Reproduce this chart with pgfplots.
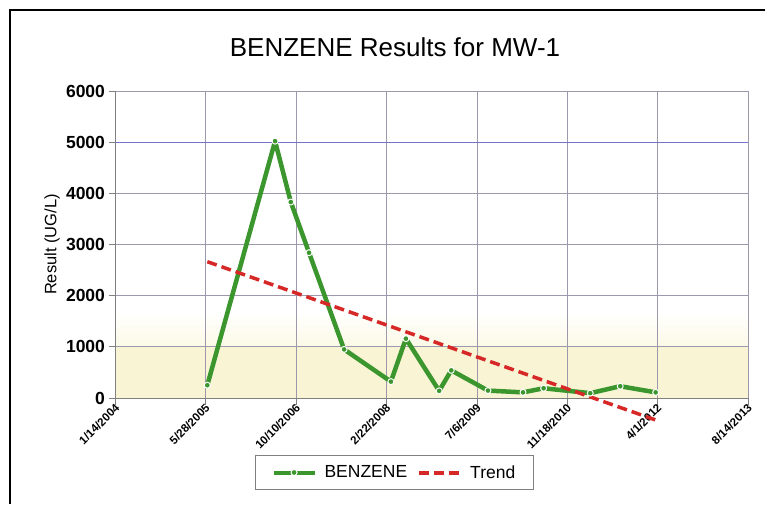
\documentclass[border=0pt]{standalone}
\usepackage{pgfplots}
\pgfplotsset{compat=1.18}
\usepackage{fontspec}
\setmainfont{Liberation Sans}
\definecolor{benz}{RGB}{58,150,45}
\definecolor{trendc}{RGB}{215,40,40}
\definecolor{gridc}{RGB}{158,152,172}
\definecolor{gridb}{RGB}{115,115,200}
\definecolor{band}{RGB}{248,244,212}
\definecolor{bandl}{RGB}{251,249,230}
\pgfdeclareverticalshading{bgshade}{100bp}{color(0bp)=(band); color(33.3bp)=(band); color(33.4bp)=(bandl); color(39bp)=(white); color(100bp)=(white)}
\pgfplotsset{
  benzleg/.style={legend image code/.code={\draw[##1, line width=4pt, mark repeat=2, mark phase=2] plot coordinates {(0pt,0pt) (20.5pt,0pt) (41pt,0pt)};}},
  trendleg/.style={legend image code/.code={\draw[##1, line width=4pt] (0pt,0pt) -- (41pt,0pt);}},
}
\begin{document}
\begin{tikzpicture}
\fill[white] (0pt,0pt) rectangle (767pt,505pt);
\draw[line width=1.5pt] (10pt,1pt) -- (10pt,495pt) -- (765pt,495pt);
\node[anchor=base, font=\fontsize{26}{30}\selectfont] at (395pt,448pt) {BENZENE Results for MW-1};
\begin{axis}[
  at={(115.5pt,107pt)}, anchor=south west,
  width=632.5pt, height=307pt, scale only axis,
  clip=false,
  axis background/.style={shading=bgshade},
  xmin=38000, xmax=41500, ymin=0, ymax=6000,
  xtick={38000,38500,...,41500},
  xticklabels={1/14/2004,5/28/2005,10/10/2006,2/22/2008,7/6/2009,11/18/2010,4/1/2012,8/14/2013},
  ytick={0,1000,...,6000},
  scaled ticks=false,
  /pgf/number format/assume math mode=true,
  /pgf/number format/set thousands separator={},
  grid=major, grid style={gridc, line width=0.8pt},
  extra y ticks={5000}, extra y tick labels={},
  extra y tick style={grid style={gridb, line width=0.8pt}, major tick length=0pt},
  axis x line*=bottom, axis y line*=left,
  axis line style={gray, line width=0.8pt},
  tick align=outside, major tick length=7pt, tick style={gray, line width=0.8pt},
  yticklabel style={font=\fontsize{17.5}{20}\selectfont\bfseries},
  xticklabel style={rotate=45, anchor=east, xshift=4pt, yshift=-2pt, font=\fontsize{11.5}{13}\selectfont\bfseries},
  ylabel={Result (UG/L)},
  ylabel style={at={(axis description cs:-0.1004,0.5)}, anchor=center, font=\fontsize{16.5}{19}\selectfont},
  legend columns=2,
  legend style={at={(axis description cs:0.441,-0.2427)}, anchor=center,
    draw=gray, line width=0.8pt, font=\fontsize{17.5}{20}\selectfont,
    inner xsep=16pt, inner ysep=8pt,
    /tikz/every odd column/.append style={column sep=6pt},
    /tikz/every even column/.append style={column sep=8pt}},
]
\addplot[benz, line width=4.5pt, line join=round, mark=*, mark size=3pt,
  mark options={fill=benz, draw=white, line width=1pt, solid}, benzleg]
  coordinates {
  (38508,250) (38883,5020) (38970,3830) (39071,2840) (39265,950)
  (39524,320) (39607,1160) (39791,140) (39858,540) (40061,145)
  (40255,110) (40369,190) (40627,95) (40793,230) (40989,110)
  };
\addlegendentry{BENZENE}
\addplot[trendc, line width=3.5pt, dash pattern=on 10pt off 5pt, trendleg]
  coordinates {(38508,2664) (40989,-430)};
\addlegendentry{Trend}
\end{axis}
\end{tikzpicture}
\end{document}
